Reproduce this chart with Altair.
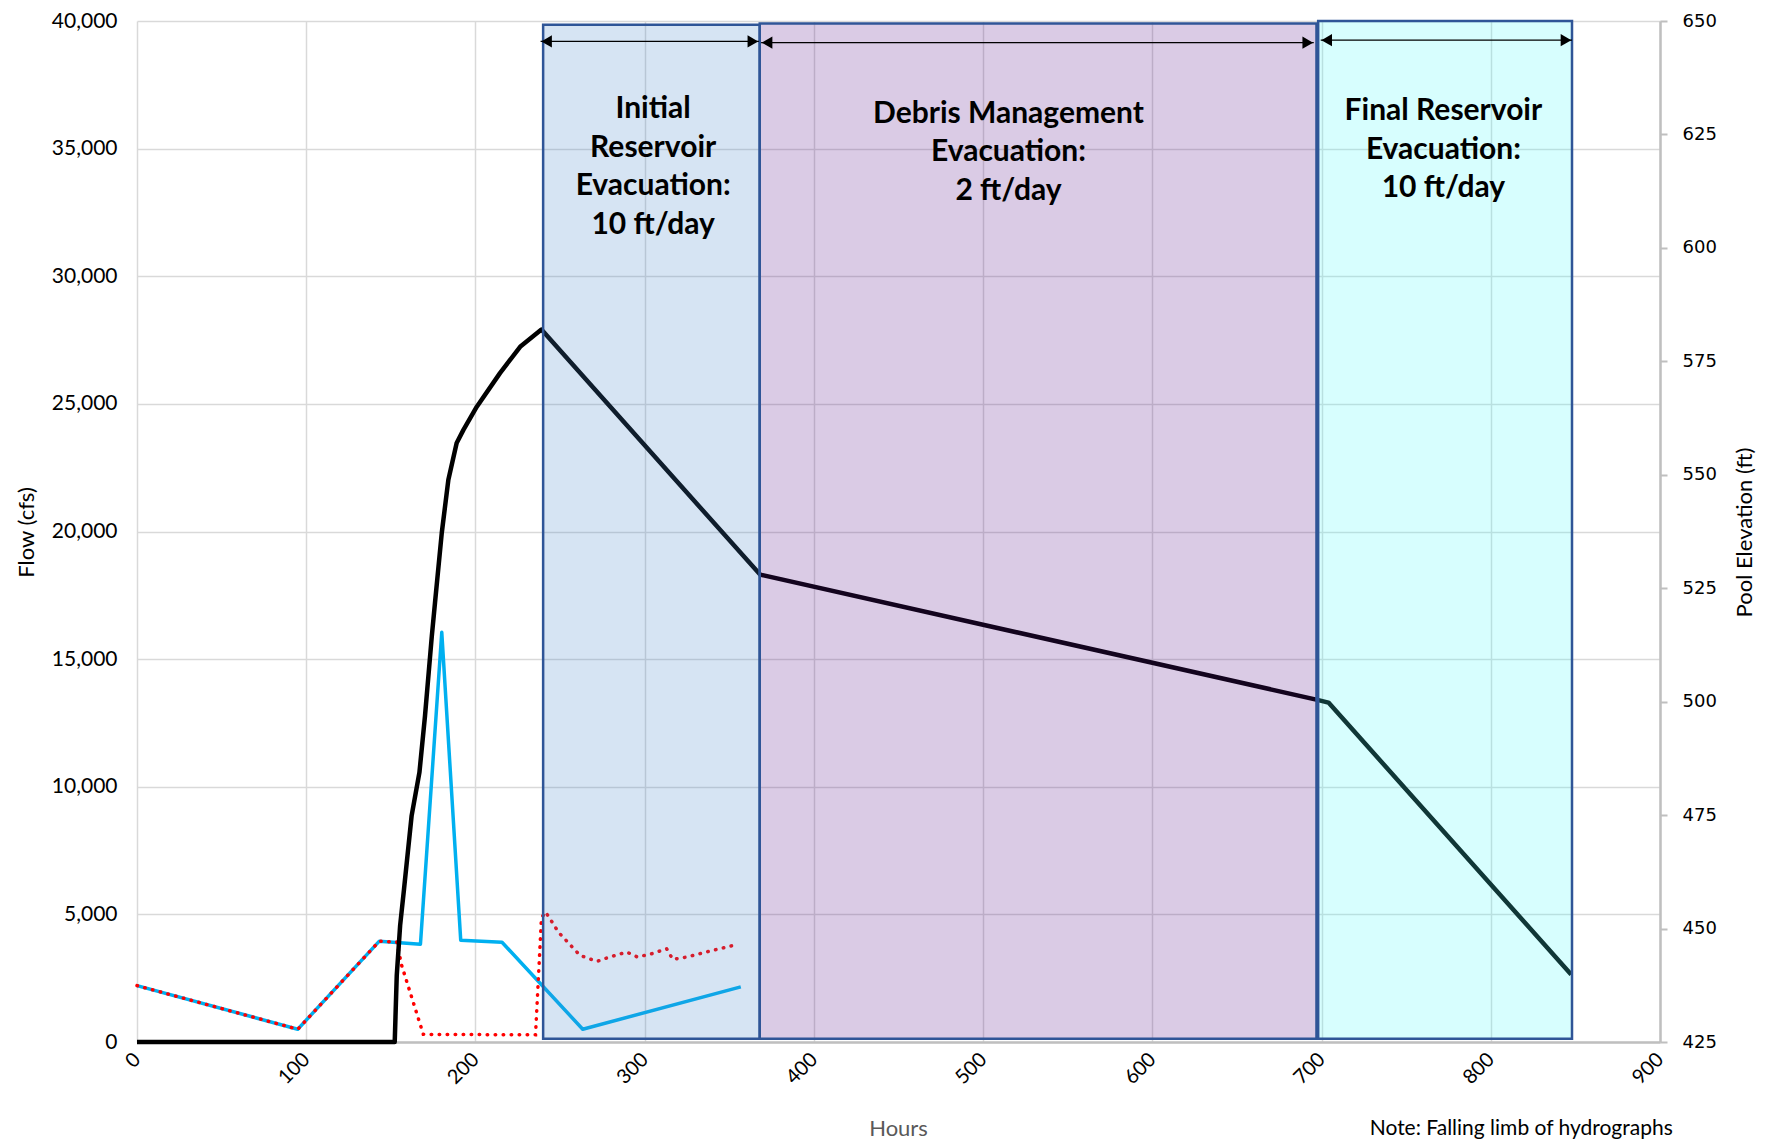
import altair as alt
import pandas as pd

# ---------------- data ----------------
blue_hours = [0, 95, 143.2, 167.5, 180.1, 191.3, 215.7, 263.4, 356.8]
blue_flow = [2210, 500, 3950, 3830, 16050, 3990, 3910, 500, 2160]

red_hours = [0, 95, 143.2, 153.5, 156.4, 169.2, 235.5, 239.0, 241.3, 244.1, 249.0,
             261.8, 271.7, 280.5, 289.4, 295.7, 304.2, 313.0, 316.6, 324.9, 337.7, 352.5]
red_flow = [2210, 500, 3950, 3914, 3002, 300, 280, 4850, 5100, 4826, 4305,
            3393, 3159, 3354, 3523, 3328, 3458, 3653, 3237, 3328, 3549, 3784]

pool_hours = [0, 152.3, 153.5, 155.5, 157.8, 162.3, 166.9, 170.2, 174.2, 176.1, 180.1,
              184.0, 188.9, 192.9, 200.8, 214.5, 226.4, 239.0, 368.2, 697.5, 704.1, 847.5]
pool_elev = [425, 425, 439.7, 450.7, 458.7, 474.9, 484.4, 496.9, 514.4, 521.8, 537.2,
             548.9, 557.0, 559.9, 565.0, 572.4, 578.2, 582.0, 528.0, 500.4, 499.8, 439.9]

phase_start = [240, 368, 698]
phase_end = [368, 697, 848]
phase_top = [39850, 39900, 40000]
phase_bottom = [130, 130, 130]
phase_fill = ["#4584C8", "#571389", "#49FAFA"]
phase_text = ["Initial\nReservoir\nEvacuation:\n10 ft/day",
              "Debris Management\nEvacuation:\n2 ft/day",
              "Final Reservoir\nEvacuation:\n10 ft/day"]
text_x = [305, 515, 772]
text_y = [36550, 36370, 36460]

arrow_start = [238.5, 368.8, 699.5]
arrow_end = [367.5, 695.4, 848]
arrow_y = [39200, 39150, 39250]

note_text = ["Note: Falling limb of hydrographs"]
note_x = [818]
note_y = [-3400]

x_ticks = list(range(0, 901, 100))
flow_ticks = list(range(0, 40001, 5000))
elev_ticks = list(range(425, 651, 25))

# ---------------- frames ----------------
blue_df = pd.DataFrame({"hours": blue_hours, "flow": blue_flow})
red_df = pd.DataFrame({"hours": red_hours, "flow": red_flow})
pool_df = pd.DataFrame({"hours": pool_hours, "elev": pool_elev})
phase_df = pd.DataFrame({"x0": phase_start, "x1": phase_end, "y0": phase_bottom,
                         "y1": phase_top, "fill": phase_fill})
text_df = pd.DataFrame({"label": phase_text, "hours": text_x, "flow": text_y})
arrow_df = pd.DataFrame({"a": arrow_start, "b": arrow_end, "flow": arrow_y})
note_df = pd.DataFrame({"label": note_text, "hours": note_x, "flow": note_y})

FONT = "Lato"

x_scale = alt.Scale(domain=[0, 900], nice=False, zero=False)
x_axis = alt.Axis(values=x_ticks, format="d", grid=True, gridColor="#D9D9D9",
                  gridWidth=1.5, domain=True, domainColor="#BFBFBF", domainWidth=2.5,
                  ticks=False, labelAngle=315, labelAlign="right", labelBaseline="middle",
                  labelFont=FONT, labelFontSize=20, labelColor="#000000", labelPadding=14,
                  title="Hours", titleFont=FONT, titleFontSize=22, titleFontWeight="normal",
                  titleColor="#595959", titleX=761, titleY=86, titleAlign="center",
                  titleBaseline="middle")


def X(field):
    return alt.X(field, type="quantitative", scale=x_scale, axis=x_axis, title="Hours")


flow_scale = alt.Scale(domain=[0, 40000], nice=False, zero=False)
flow_axis = alt.Axis(values=flow_ticks, format=",.0f", grid=True, gridColor="#D9D9D9",
                     gridWidth=1.5, domain=False, ticks=False, labelFont=FONT,
                     labelFontSize=21, labelColor="#000000", labelPadding=20,
                     title="Flow (cfs)", titleFont=FONT, titleFontSize=22,
                     titleFontWeight="normal", titleColor="#000000", titleX=-111,
                     titleY=511, titleAngle=270, titleAlign="center",
                     titleBaseline="middle")


def Yf(field, axis=None):
    return alt.Y(field, type="quantitative", scale=flow_scale, axis=axis, title=None)


blue = alt.Chart(blue_df).mark_line(color="#00B0F0", strokeWidth=3.5,
                                    strokeJoin="round").encode(
    x=X("hours"), y=Yf("flow", flow_axis))

red = alt.Chart(red_df).mark_line(color="#FF0000", strokeWidth=3.5, strokeCap="round",
                                  strokeDash=[0.5, 7.5]).encode(
    x=X("hours"), y=Yf("flow"))

pool = alt.Chart(pool_df).mark_line(color="#000000", strokeWidth=4.5,
                                    strokeJoin="round").encode(
    x=X("hours"),
    y=alt.Y("elev", type="quantitative",
            scale=alt.Scale(domain=[425, 650], nice=False, zero=False),
            axis=alt.Axis(orient="right", values=elev_ticks, format="d", grid=False,
                          domain=True, domainColor="#BFBFBF", domainWidth=2.5, ticks=True,
                          tickColor="#BFBFBF", tickSize=7, tickWidth=2,
                          labelFont="DejaVu Sans", labelFontSize=18,
                          labelColor="#000000", labelPadding=15,
                          title="Pool Elevation (ft)", titleFont=FONT, titleFontSize=22,
                          titleFontWeight="normal", titleColor="#000000", titleX=84,
                          titleY=511, titleAngle=270, titleAlign="center",
                          titleBaseline="middle"),
            title=None))

rects = alt.Chart(phase_df).mark_rect(fillOpacity=0.22, stroke="#2F5597",
                                      strokeWidth=2.5, strokeOpacity=1).encode(
    x=X("x0"), x2="x1", y=Yf("y0"), y2="y1",
    fill=alt.Fill("fill:N", scale=None))

arrow_lines = alt.Chart(arrow_df).mark_rule(color="#000000", strokeWidth=1.3).encode(
    x=X("a"), x2="b", y=Yf("flow"))

arrow_left = alt.Chart(arrow_df).mark_point(shape="triangle-left", filled=True,
                                            size=150, opacity=1, color="#000000",
                                            xOffset=6).encode(
    x=X("a"), y=Yf("flow"))

arrow_right = alt.Chart(arrow_df).mark_point(shape="triangle-right", filled=True,
                                             size=150, opacity=1, color="#000000",
                                             xOffset=-6).encode(
    x=X("b"), y=Yf("flow"))

labels = alt.Chart(text_df).mark_text(lineBreak="\n", align="center", baseline="middle",
                                      font=FONT, fontWeight="bold", fontSize=30,
                                      lineHeight=38.5, color="#000000").encode(
    x=X("hours"), y=Yf("flow"), text="label:N")

note = alt.Chart(note_df).mark_text(align="center", baseline="middle", font=FONT,
                                    fontSize=21, color="#000000").encode(
    x=X("hours"), y=Yf("flow"), text="label:N")

chart = alt.layer(blue, red, pool, rects, arrow_lines, arrow_left, arrow_right,
                  labels, note).resolve_scale(y="independent").properties(
    width=1523, height=1021,
    padding={"left": 129, "top": 13, "right": 108, "bottom": 101},
    autosize=alt.AutoSizeParams(type="none"),
    background="#FFFFFF",
).configure_view(stroke=None)

chart.save("out.html", embed_options={"renderer": "svg", "actions": False})
